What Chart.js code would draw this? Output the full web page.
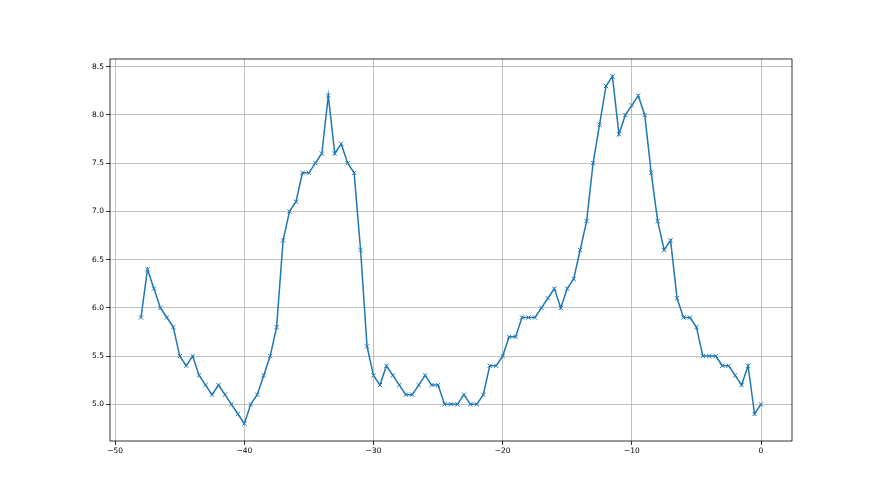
<!DOCTYPE html>
<html>
<head>
<meta charset="utf-8">
<title>Line chart</title>
<script src="https://cdn.jsdelivr.net/npm/chart.js@4/dist/chart.umd.min.js"></script>
<style>
  html, body { margin: 0; padding: 0; background: #fff; }
  #wrap { width: 880px; height: 495px; }
</style>
</head>
<body>
<div id="wrap"><canvas id="chart" width="880" height="495"></canvas></div>
<script>
// x positions (every half unit from -48 to 0)
const xValues = [
  -48, -47.5, -47, -46.5, -46, -45.5, -45, -44.5, -44, -43.5,
  -43, -42.5, -42, -41.5, -41, -40.5, -40, -39.5, -39, -38.5,
  -38, -37.5, -37, -36.5, -36, -35.5, -35, -34.5, -34, -33.5,
  -33, -32.5, -32, -31.5, -31, -30.5, -30, -29.5, -29, -28.5,
  -28, -27.5, -27, -26.5, -26, -25.5, -25, -24.5, -24, -23.5,
  -23, -22.5, -22, -21.5, -21, -20.5, -20, -19.5, -19, -18.5,
  -18, -17.5, -17, -16.5, -16, -15.5, -15, -14.5, -14, -13.5,
  -13, -12.5, -12, -11.5, -11, -10.5, -10, -9.5, -9, -8.5,
  -8, -7.5, -7, -6.5, -6, -5.5, -5, -4.5, -4, -3.5,
  -3, -2.5, -2, -1.5, -1, -0.5, 0
];

const yValues = [
  5.9, 6.4, 6.2, 6.0, 5.9, 5.8, 5.5, 5.4, 5.5, 5.3,
  5.2, 5.1, 5.2, 5.1, 5.0, 4.9, 4.8, 5.0, 5.1, 5.3,
  5.5, 5.8, 6.7, 7.0, 7.1, 7.4, 7.4, 7.5, 7.6, 8.2,
  7.6, 7.7, 7.5, 7.4, 6.6, 5.6, 5.3, 5.2, 5.4, 5.3,
  5.2, 5.1, 5.1, 5.2, 5.3, 5.2, 5.2, 5.0, 5.0, 5.0,
  5.1, 5.0, 5.0, 5.1, 5.4, 5.4, 5.5, 5.7, 5.7, 5.9,
  5.9, 5.9, 6.0, 6.1, 6.2, 6.0, 6.2, 6.3, 6.6, 6.9,
  7.5, 7.9, 8.3, 8.4, 7.8, 8.0, 8.1, 8.2, 8.0, 7.4,
  6.9, 6.6, 6.7, 6.1, 5.9, 5.9, 5.8, 5.5, 5.5, 5.5,
  5.4, 5.4, 5.3, 5.2, 5.4, 4.9, 5.0
];

const xTicks = [-50, -40, -30, -20, -10, 0];
const yTicks = [5.0, 5.5, 6.0, 6.5, 7.0, 7.5, 8.0, 8.5];

const LINE_COLOR = '#1f77b4';
const GRID_COLOR = '#b0b0b0';
const TICK_FONT = { family: 'DejaVu Sans', size: 7.5 };

// matplotlib style closed frame round the plot area
const frameBox = {
  id: 'frameBox',
  afterDraw(chart) {
    const { ctx, chartArea: a } = chart;
    ctx.save();
    ctx.strokeStyle = '#000';
    ctx.lineWidth = 0.8;
    ctx.strokeRect(a.left, a.top, a.right - a.left, a.bottom - a.top);
    ctx.restore();
  }
};

new Chart(document.getElementById('chart'), {
  type: 'scatter',
  data: {
    datasets: [{
      data: xValues.map((x, i) => ({ x: x, y: yValues[i] })),
      showLine: true,
      borderColor: LINE_COLOR,
      backgroundColor: LINE_COLOR,
      borderWidth: 1.5,
      pointStyle: 'crossRot',
      pointRadius: 3,
      pointBorderWidth: 1,
      pointHoverRadius: 3,
      tension: 0
    }]
  },
  options: {
    responsive: false,
    animation: false,
    devicePixelRatio: 1,
    layout: { padding: { left: 70, right: 88, top: 59, bottom: 24 } },
    plugins: {
      legend: { display: false },
      tooltip: { enabled: false }
    },
    scales: {
      x: {
        type: 'linear',
        min: -50.4,
        max: 2.4,
        afterBuildTicks: axis => { axis.ticks = xTicks.map(v => ({ value: v })); },
        afterFit: axis => { axis.height = 30; },
        grid: { color: GRID_COLOR, lineWidth: 0.8, tickColor: '#000', tickLength: 4 },
        border: { display: false },
        ticks: {
          color: '#000',
          font: TICK_FONT,
          padding: 2,
          maxRotation: 0,
          callback: v => String(v).replace('-', '\u2212')
        }
      },
      y: {
        type: 'linear',
        min: 4.62,
        max: 8.58,
        afterBuildTicks: axis => { axis.ticks = yTicks.map(v => ({ value: v })); },
        afterFit: axis => { axis.width = 40; },
        grid: { color: GRID_COLOR, lineWidth: 0.8, tickColor: '#000', tickLength: 4 },
        border: { display: false },
        ticks: {
          color: '#000',
          font: TICK_FONT,
          padding: 2,
          callback: v => Number(v).toFixed(1)
        }
      }
    }
  },
  plugins: [frameBox]
});
</script>
</body>
</html>
